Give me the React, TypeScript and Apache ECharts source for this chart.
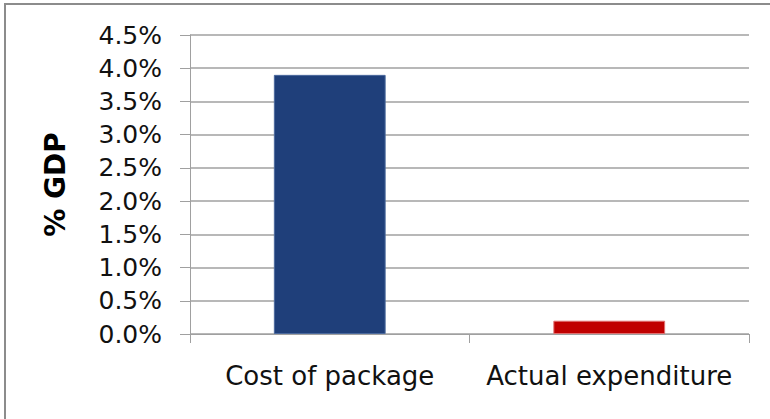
import React, { useEffect, useRef } from "react";
import * as echarts from "echarts";

// Fiscal stimulus: announced package cost vs. what was actually spent (% of GDP)
const categories = ["Cost of package", "Actual expenditure"];
const values = [3.9, 0.2];
const barColors = ["#1F3F7A", "#C00000"];
const barEdges = ["#4C6A9E", "#E07070"];
const yMin = 0;
const yMax = 4.5;
const yStep = 0.5;

export default function App() {
  const ref = useRef<HTMLDivElement>(null);

  useEffect(() => {
    if (!ref.current) return;
    const chart = echarts.init(ref.current, undefined, { renderer: "svg" });
    const font = "'DejaVu Sans', Verdana, sans-serif";
    chart.setOption({
      animation: false,
      backgroundColor: "#FFFFFF",
      grid: { left: 190, right: 21, top: 35, bottom: 85, containLabel: false },
      graphic: [
        {
          type: "rect",
          shape: { x: 5, y: 4, width: 900, height: 600 },
          style: { fill: "none", stroke: "#8C8C8C", lineWidth: 2 },
          silent: true,
        },
      ],
      xAxis: {
        type: "category",
        data: categories,
        boundaryGap: true,
        axisLine: { show: true, lineStyle: { color: "#A0A0A0", width: 1 } },
        axisTick: { show: true, alignWithLabel: false, length: 9, lineStyle: { color: "#A0A0A0" } },
        axisLabel: { color: "#111111", fontFamily: font, fontSize: 26, margin: 29, interval: 0 },
        splitLine: { show: false },
      },
      yAxis: {
        type: "value",
        min: yMin,
        max: yMax,
        interval: yStep,
        name: "% GDP",
        nameLocation: "middle",
        nameRotate: 90,
        nameGap: 121,
        nameTextStyle: { color: "#000000", fontFamily: font, fontSize: 28, fontWeight: "bold" },
        axisLine: { show: true, lineStyle: { color: "#A0A0A0", width: 1 } },
        axisTick: { show: true, length: 10, lineStyle: { color: "#A0A0A0" } },
        axisLabel: {
          color: "#111111",
          fontFamily: font,
          fontSize: 25,
          margin: 28,
          formatter: (v: number) => v.toFixed(1) + "%",
        },
        splitLine: { show: true, lineStyle: { color: "#A0A0A0", width: 1.5 } },
      },
      series: [
        {
          type: "bar",
          barWidth: "40%",
          data: values.map((v, i) => ({
            value: v,
            itemStyle: { color: barColors[i], borderColor: barEdges[i], borderWidth: 1 },
          })),
        },
      ],
    });
    return () => chart.dispose();
  }, []);

  return (
    <div
      ref={ref}
      style={{ position: "fixed", left: 0, top: 0, width: 770, height: 419, background: "#fff" }}
    />
  );
}
